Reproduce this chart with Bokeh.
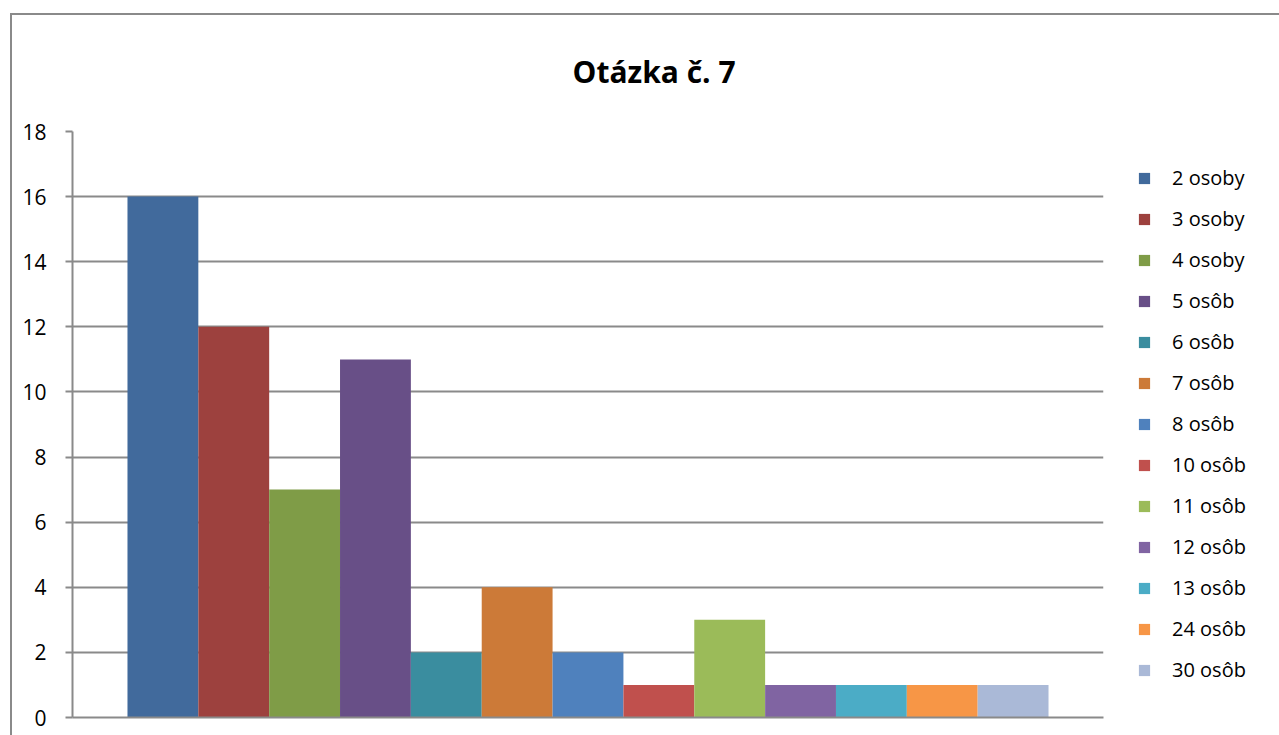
from bokeh.plotting import figure
from bokeh.models import (ColumnDataSource, Range1d, FixedTicker, Legend, LegendItem,
                          Title, InlineStyleSheet)
from bokeh.embed import file_html
from bokeh.resources import INLINE

# ---- data ----
labels = ["2 osoby", "3 osoby", "4 osoby", "5 osôb", "6 osôb", "7 osôb", "8 osôb",
          "10 osôb", "11 osôb", "12 osôb", "13 osôb", "24 osôb", "30 osôb"]
values = [16, 12, 7, 11, 2, 4, 2, 1, 3, 1, 1, 1, 1]
colors = ["#416A9C", "#9D413E", "#7F9C47", "#684F87", "#3A8D9F", "#CC7A38", "#4F81BD",
          "#C0504D", "#9BBB59", "#8064A2", "#4BACC6", "#F79646", "#AAB9D7"]
y_ticks = [0, 2, 4, 6, 8, 10, 12, 14, 16, 18]
title_text = "Otázka č. 7"

FONT = "Open Sans"
GRAY = "#8A8A8A"

p = figure(frame_width=1031, frame_height=586, output_backend="svg", toolbar_location=None,
           x_range=Range1d(-1.276, 13.276), y_range=Range1d(0, 18),
           min_border_left=72, min_border_right=176, min_border_top=131,
           min_border_bottom=18)
p.outline_line_color = None
p.background_fill_color = "white"
p.border_fill_color = "white"

# outer chart border (left and top edges visible, rest beyond the window)
p.stylesheets = [InlineStyleSheet(css=(
    ":host::after { content: ''; position: absolute; left: 10px; top: 13px; "
    "width: 1267px; height: 720px; border-left: 2px solid #8A8A8A; "
    "border-top: 2px solid #8A8A8A; pointer-events: none; z-index: 10; }"
))]

# axes
p.yaxis.ticker = FixedTicker(ticks=y_ticks)
p.yaxis.axis_line_color = GRAY
p.yaxis.axis_line_width = 2
p.yaxis.major_tick_line_color = GRAY
p.yaxis.major_tick_line_width = 2
p.yaxis.major_tick_out = 7
p.yaxis.major_tick_in = 0
p.yaxis.minor_tick_line_color = None
p.yaxis.major_label_standoff = 19
p.yaxis.major_label_text_font = FONT
p.yaxis.major_label_text_font_size = "21px"
p.yaxis.major_label_text_color = "black"

p.xaxis.ticker = FixedTicker(ticks=[])
p.xaxis.axis_line_color = GRAY
p.xaxis.axis_line_width = 2
p.xaxis.major_tick_line_color = None
p.xaxis.minor_tick_line_color = None
p.xaxis.major_label_text_font_size = "0px"
p.xaxis.major_tick_out = 0
p.xaxis.major_label_standoff = 0

p.xgrid.grid_line_color = None
p.ygrid.ticker = FixedTicker(ticks=y_ticks[1:])
p.ygrid.grid_line_color = GRAY
p.ygrid.grid_line_width = 2

# bars
items = []
for i, (lab, v, c) in enumerate(zip(labels, values, colors)):
    src = ColumnDataSource(dict(x=[i], top=[v]))
    r = p.vbar(x="x", top="top", width=1.0, source=src, fill_color=c, line_color=None)
    items.append(LegendItem(label=lab, renderers=[r]))

legend = Legend(items=items, location=(34, 34), orientation="vertical",
                border_line_color=None, background_fill_alpha=0,
                padding=0, margin=0, spacing=14,
                glyph_width=14, glyph_height=14, label_height=22,
                label_standoff=21, label_text_font=FONT,
                label_text_font_size="20px", label_text_color="black")
p.add_layout(legend, "right")

# title
p.add_layout(Title(text=title_text, align="left", offset=500, standoff=80,
                   text_font=FONT, text_font_size="30px", text_font_style="bold",
                   text_color="black"), "above")

open("out.html", "w").write(file_html(p, INLINE))
